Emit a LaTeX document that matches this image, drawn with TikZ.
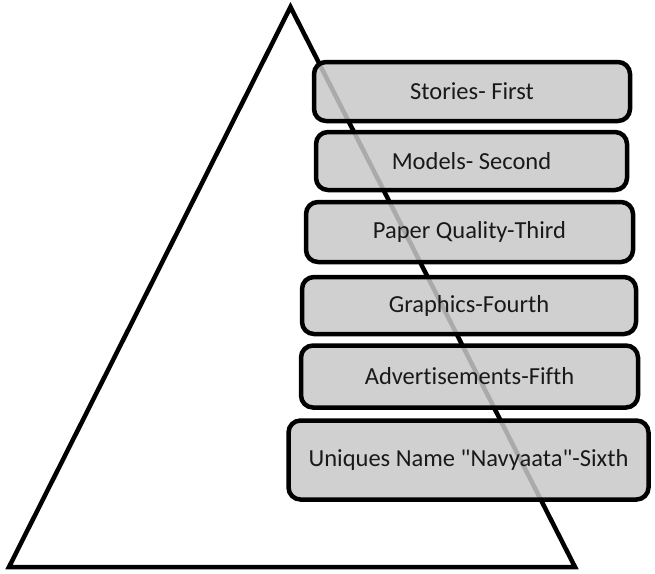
\documentclass[tikz,border=0pt]{standalone}
\usepackage{fontspec}
\setmainfont{Carlito}[Ligatures={TeXOff,NoCommon}]
\begin{document}
\begin{tikzpicture}[x=1pt,y=-1pt,
  tier/.style={draw=black,line width=4.5pt,rounded corners=12pt,
    fill={rgb,255:red,200;green,200;blue,200},fill opacity=0.85,text opacity=1,
    font=\fontsize{24.5}{28}\selectfont,text=black!90}]
\useasboundingbox (0,0) rectangle (655,573);
\coordinate (apex) at (290.5,7);
\coordinate (bl) at (9,567);
\coordinate (br) at (575,567);
\draw[line width=4.5pt,line join=miter] (apex) -- (bl) -- (br) -- cycle;
\node[tier,minimum width=316pt,minimum height=59pt] (t1) at (472,91.5) {Stories- First};
\node[tier,minimum width=311pt,minimum height=58pt] (t2) at (471.5,161) {Models- Second};
\node[tier,minimum width=327pt,minimum height=60pt] (t3) at (469.5,232) {Paper Quality-Third};
\node[tier,minimum width=334pt,minimum height=57pt] (t4) at (469,305.5) {Graphics-Fourth};
\node[tier,minimum width=337pt,minimum height=62pt] (t5) at (469.5,376.5) {Advertisements-Fifth};
\node[tier,minimum width=360pt,minimum height=79pt] (t6) at (468.5,460) {Uniques Name "Navyaata"-Sixth};
\end{tikzpicture}
\end{document}
